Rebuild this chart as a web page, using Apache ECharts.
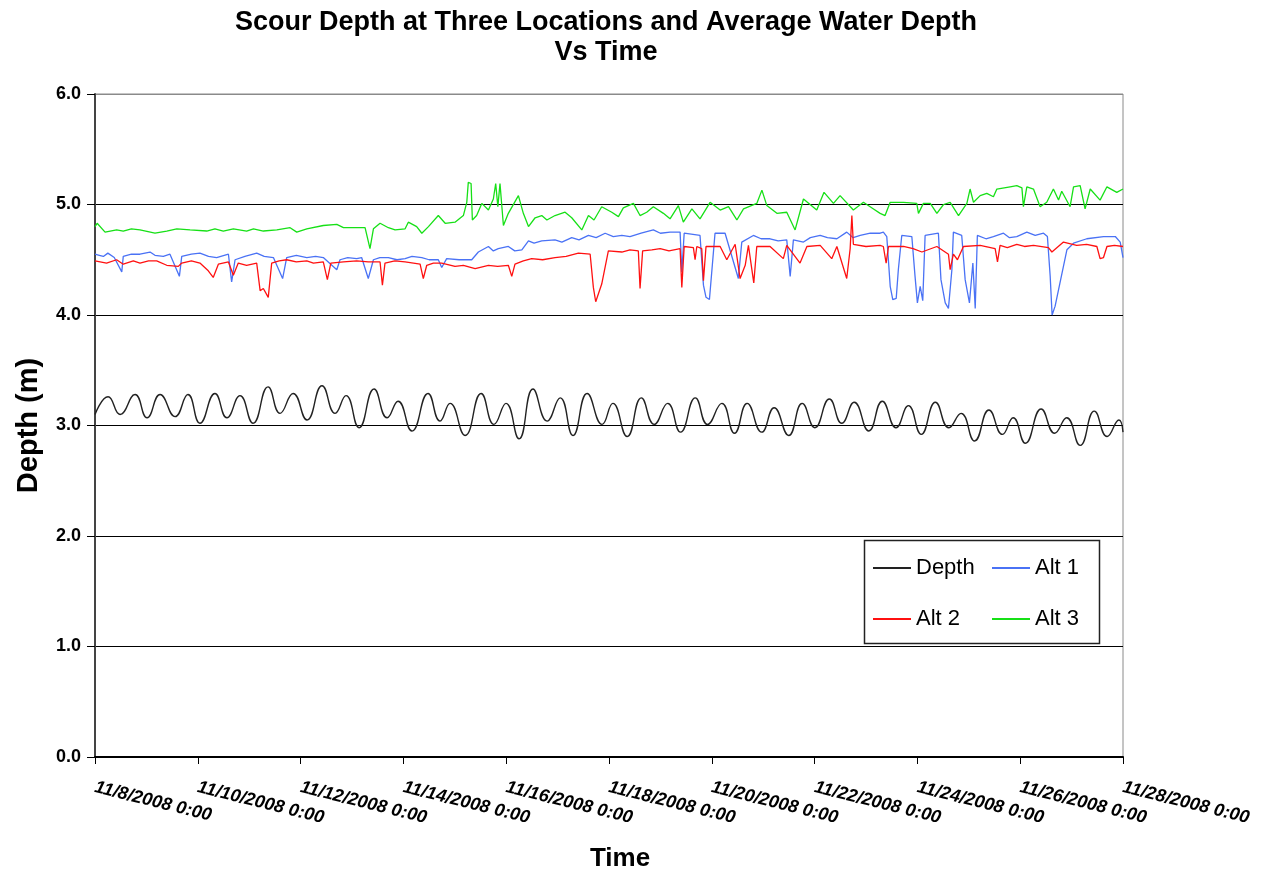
<!DOCTYPE html>
<html>
<head>
<meta charset="utf-8">
<script src="https://cdn.jsdelivr.net/npm/echarts@6/dist/echarts.min.js"></script>
<style>html,body{margin:0;padding:0;background:#fff;}#c{width:1268px;height:877px;}</style>
</head>
<body>
<div id="c"></div>
<script>
// hours since 11/8/2008 0:00
var xTickLabels = ['11/8/2008 0:00','11/10/2008 0:00','11/12/2008 0:00','11/14/2008 0:00','11/16/2008 0:00','11/18/2008 0:00','11/20/2008 0:00','11/22/2008 0:00','11/24/2008 0:00','11/26/2008 0:00','11/28/2008 0:00'];
var yTickLabels = ['0.0','1.0','2.0','3.0','4.0','5.0','6.0'];
var seriesNames = ['Depth','Alt 1','Alt 2','Alt 3'];

var depthData = [
[0,3.10],[6.1,3.26],[11.7,3.10],[18.7,3.28],[24.3,3.07],[30.4,3.28],[37.4,3.08],[43.4,3.28],[49.0,3.02],[56.0,3.29],
[61.6,3.07],[67.7,3.27],[73.8,3.02],[80.8,3.35],[86.4,3.11],[92.5,3.29],[99.0,3.05],[106.0,3.36],[112.1,3.11],[117.2,3.27],
[123.3,2.98],[130.3,3.33],[136.4,3.07],[141.5,3.22],[148.0,2.95],[155.5,3.29],[161.1,3.04],[165.8,3.20],[172.8,2.91],[180.3,3.29],
[186.3,3.01],[191.9,3.20],[198.0,2.88],[204.5,3.33],[211.1,3.04],[217.2,3.25],[223.2,2.91],[229.8,3.29],[236.8,3.01],[241.8,3.20],
[248.5,2.90],[255.1,3.25],[261.1,3.01],[267.4,3.20],[273.4,2.94],[280.3,3.25],[286.0,3.01],[292.7,3.20],[298.6,2.93],[304.5,3.20],
[311.3,2.94],[317.1,3.16],[323.9,2.91],[330.2,3.20],[336.1,2.98],[342.9,3.24],[348.7,3.02],[354.5,3.21],[361.3,2.95],[367.6,3.22],
[374.0,2.98],[379.8,3.18],[385.8,2.92],[392.4,3.21],[398.7,2.98],[404.4,3.11],[410.7,2.86],[417.4,3.14],[423.7,2.92],[428.7,3.07],
[434.4,2.84],[441.8,3.15],[448.1,2.93],[453.7,3.07],[460.0,2.82],[466.6,3.13],[472.6,2.90],[478.1,3.05],[480,2.94]
];

var alt1Data = [
[0,4.55],[2,4.54],[3.9,4.53],[6,4.56],[9,4.52],[12.5,4.39],[13.2,4.53],[17,4.55],[21.0,4.55],[25.7,4.57],[28,4.54],[31.9,4.53],[35,4.55],[39.4,4.35],[40.5,4.53],[45,4.55],[49.0,4.56],
[53,4.53],[56.8,4.52],[62.3,4.55],[63.8,4.30],[65.4,4.50],[70,4.53],[75.5,4.56],[79,4.53],[83.3,4.52],[87.6,4.33],[89.5,4.52],[94,4.54],[98.9,4.52],[103,4.53],[106.6,4.52],
[112.9,4.41],[114.4,4.50],[118,4.52],[122.2,4.51],[124.5,4.52],[127.6,4.33],[130.0,4.50],[133,4.52],[137.0,4.52],[141,4.50],[144.8,4.51],[148,4.53],[152.6,4.52],[156,4.50],[160.3,4.50],
[161.9,4.43],[164.2,4.51],[170,4.50],[175.9,4.50],[179.0,4.57],[183.7,4.62],[186,4.58],[188.3,4.60],[193.0,4.62],[196,4.58],[199.3,4.59],[202.4,4.67],[205,4.65],[208.6,4.67],
[214.8,4.68],[218,4.66],[222.6,4.70],[226,4.68],[230.4,4.72],[234,4.70],[238.2,4.74],[242,4.71],[246.0,4.72],[249.8,4.71],[255,4.74],[260.7,4.77],[264,4.74],[268.5,4.75],[273.2,4.75],[274.0,4.39],
[275.1,4.74],[282.5,4.72],[284.1,4.27],[285.3,4.16],[286.9,4.14],[289.5,4.74],[294.2,4.74],[300.4,4.33],[302.0,4.66],[307.4,4.72],
[311,4.69],[315.2,4.69],[319,4.67],[323.0,4.68],[324.6,4.35],[326.1,4.68],[330.8,4.66],[334,4.70],[338.6,4.72],[342,4.70],[346.4,4.69],[351.0,4.75],[354,4.70],[357.3,4.72],[362,4.74],[366.6,4.74],
[368.1,4.75],[369.7,4.71],[371.3,4.26],[372.5,4.14],[374.1,4.15],[375.1,4.41],[376.7,4.72],[381.4,4.71],[382.9,4.35],[384.0,4.11],
[385.3,4.26],[386.5,4.13],[387.6,4.72],[393.8,4.74],[395.0,4.32],[397.0,4.11],[398.5,4.06],[400.1,4.41],[400.8,4.75],[404.7,4.72],
[406.3,4.32],[408.3,4.11],[409.9,4.47],[411.0,4.06],[412.0,4.72],[416,4.69],[419.5,4.71],[424.2,4.74],[427,4.70],[430.4,4.71],[435.1,4.75],[439,4.72],[442.9,4.74],
[444.7,4.71],[446.0,4.35],[446.9,4.00],[448.3,4.08],[453.8,4.59],[456.9,4.65],[463.1,4.69],[470.9,4.71],[476.4,4.71],[478.7,4.66],[480,4.52]
];

var alt2Data = [
[0,4.49],[5.4,4.47],[10.1,4.50],[13.2,4.46],[17.9,4.49],[21.0,4.47],[25,4.49],[28.8,4.49],[33.5,4.45],[38.9,4.44],[40.5,4.47],[45,4.49],
[49.0,4.47],[52.9,4.40],[55.2,4.34],[57.6,4.46],[62.3,4.48],[64.6,4.36],[66.9,4.47],[70.8,4.45],[75.5,4.47],[77.1,4.22],
[78.6,4.24],[80.9,4.16],[82.5,4.47],[86,4.49],[89.5,4.50],[94,4.48],[98.9,4.49],[102,4.47],[106.6,4.48],[108.5,4.32],[110.1,4.47],[116,4.48],[122.2,4.49],[127.6,4.48],
[133.1,4.48],[134.2,4.27],[135.4,4.47],[140,4.49],[144.8,4.48],[151.8,4.46],[153.3,4.33],[154.9,4.45],[158,4.47],[161.9,4.47],[168.1,4.44],[172,4.45],[177.5,4.42],
[183.7,4.45],[188,4.44],[193.0,4.45],[194.6,4.35],[196.1,4.46],[200,4.49],[203.9,4.51],[209,4.50],[214.8,4.52],[220,4.53],[225.7,4.56],[231.2,4.55],[232.7,4.25],[233.8,4.12],
[236.6,4.28],[239.7,4.58],[246.0,4.57],[249.8,4.59],[253.7,4.58],[254.5,4.24],[255.7,4.58],[260,4.59],[263.9,4.60],[268,4.58],[273.2,4.60],[274.0,4.25],
[275.1,4.62],[279.4,4.61],[280.2,4.50],[281.0,4.62],[283.3,4.60],[284.1,4.31],[285.3,4.62],[291.9,4.62],[295.0,4.50],[298.9,4.64],
[301.2,4.33],[303.6,4.45],[305.1,4.63],[307.6,4.29],[309.0,4.62],[315.2,4.62],[321.4,4.51],[323.0,4.63],[329.2,4.47],[332.4,4.62],
[338.6,4.63],[344.0,4.51],[346.4,4.62],[351.0,4.33],[352.6,4.60],[353.4,4.90],[354.1,4.64],[360,4.62],[366.6,4.63],[368.1,4.62],[369.4,4.47],
[370.5,4.62],[377.5,4.62],[382,4.60],[386.1,4.57],[393.1,4.62],[398.5,4.55],[399.3,4.41],[400.8,4.55],[402.7,4.50],[405.5,4.62],[413.3,4.63],
[420.3,4.60],[421.4,4.48],[422.6,4.63],[426,4.61],[430.4,4.64],[434,4.62],[438.2,4.63],[445.2,4.61],[446.8,4.57],[452.2,4.66],[458.4,4.63],[463,4.64],[467.8,4.62],
[469.3,4.51],[470.9,4.52],[472.5,4.62],[476,4.63],[480,4.62]
];

var alt3Data = [
[0,4.80],[1,4.83],[4.7,4.75],[10.1,4.77],[13.2,4.76],[17,4.78],[21.0,4.77],[28.0,4.74],[33.5,4.76],[38.2,4.78],[44.4,4.77],
[52.2,4.76],[56,4.78],[59.9,4.76],[64.6,4.78],[70.8,4.76],[74,4.78],[78.6,4.76],[84.9,4.77],[91.1,4.79],[94.2,4.75],[98.9,4.78],[106.6,4.81],
[112.9,4.82],[116.0,4.79],[122.2,4.79],[126.1,4.79],[128.4,4.60],[130.0,4.78],[133.1,4.83],[137.0,4.79],[140.1,4.77],[144.8,4.78],
[146.3,4.84],[150.2,4.80],[152.6,4.74],[155.7,4.80],[160.3,4.90],[163.5,4.83],[168.1,4.84],[172.0,4.90],[173.6,5.02],[174.3,5.20],
[175.6,5.19],[176.2,4.86],[178.2,4.90],[180.6,5.01],[183.7,4.95],[186.0,5.05],[187.1,5.19],[188.1,4.98],[189.1,5.19],[190.7,4.81],
[193.0,4.92],[197.7,5.08],[200.0,4.92],[202.4,4.80],[205.5,4.88],[208.6,4.90],[211,4.86],[214.8,4.90],[219.5,4.93],[222.6,4.88],[227.3,4.77],
[230.4,4.90],[233,4.86],[236.6,4.98],[241.3,4.93],[244.4,4.89],[246.7,4.97],[251.4,5.01],[254.5,4.90],[257.6,4.93],[260.7,4.98],[265.4,4.92],
[268.5,4.87],[272.4,4.99],[274.7,4.84],[278.7,4.96],[282.5,4.87],[287.2,5.02],[291.9,4.95],[295.8,4.98],[299.7,4.86],[302.8,4.96],
[309.0,5.01],[311.4,5.13],[313.7,4.99],[318.4,4.92],[323.0,4.93],[326.9,4.77],[330.8,5.05],[337.0,4.95],[340.4,5.11],[344.8,5.01],
[347.9,5.08],[354.1,4.95],[358.8,5.02],[363.5,4.96],[366.6,4.92],[368.9,4.90],[371.3,5.02],[377.5,5.02],[383.7,5.01],[384.5,4.92],
[386.8,5.01],[390.0,5.01],[393.1,4.92],[396.2,5.00],[399.3,5.02],[403.2,4.90],[407.1,5.01],[408.6,5.14],[410.2,5.02],[413.3,5.08],
[416.4,5.10],[419.5,5.07],[421.1,5.14],[427.3,5.16],[430.4,5.17],[432.8,5.15],[433.5,4.98],[435.1,5.16],[438.2,5.14],[441.3,4.98],
[444.4,5.02],[447.5,5.14],[449.9,5.04],[451.4,5.12],[455.3,4.98],[456.9,5.16],[460.0,5.17],[462.3,4.96],[464.7,5.14],[469.3,5.04],
[472.5,5.16],[477.1,5.11],[480,5.14]
];

var FONT = '"Liberation Sans", Arial, sans-serif';
var chart = echarts.init(document.getElementById('c'), null, {renderer: 'canvas'});
var legendText = {fontFamily: FONT, fontSize: 22, color: '#000'};
var option = {
  backgroundColor: '#fff',
  animation: false,
  title: {
    text: 'Scour Depth at Three Locations and Average Water Depth\nVs Time',
    left: 601, top: 3, textAlign: 'center',
    textStyle: {fontFamily: FONT, fontWeight: 'bold', fontSize: 27, lineHeight: 30, color: '#000'}
  },
  grid: {left: 95, right: 145, top: 94, bottom: 119, show: true, borderColor: '#8a8a8a', borderWidth: 1, containLabel: false},
  legend: [
    {data: [seriesNames[0], seriesNames[2]], orient: 'vertical', left: 868, top: 552, icon: 'rect', itemWidth: 38, itemHeight: 2, itemGap: 29,
     textStyle: legendText},
    {data: [seriesNames[1], seriesNames[3]], orient: 'vertical', left: 987, top: 552, icon: 'rect', itemWidth: 38, itemHeight: 2, itemGap: 29,
     textStyle: legendText}
  ],
  graphic: [
    {type: 'rect', left: 862, top: 538, shape: {width: 235, height: 103}, style: {fill: 'none', stroke: '#222', lineWidth: 1.5}, z: 100}
  ],
  xAxis: {
    type: 'value', min: 0, max: 480, interval: 48,
    name: 'Time', nameLocation: 'middle', nameGap: 89,
    nameTextStyle: {fontFamily: FONT, fontWeight: 'bold', fontSize: 26, color: '#000', padding: [0, 0, 0, 22]},
    axisLine: {show: true, onZero: false, lineStyle: {color: '#000', width: 2}},
    axisTick: {show: true, length: 7, lineStyle: {color: '#000', width: 1}},
    splitLine: {show: false},
    axisLabel: {
      rotate: -14, margin: 30,
      fontFamily: FONT, fontWeight: 'bold', fontStyle: 'italic', fontSize: 18, color: '#000',
      formatter: function (v) { return xTickLabels[Math.round(v / 48)] || ''; }
    }
  },
  yAxis: {
    type: 'value', min: 0, max: 6, interval: 1,
    name: 'Depth (m)', nameLocation: 'middle', nameGap: 52,
    nameTextStyle: {fontFamily: FONT, fontWeight: 'bold', fontSize: 29, color: '#000'},
    axisLine: {show: true, lineStyle: {color: '#444', width: 2}},
    axisTick: {show: true, length: 8, lineStyle: {color: '#000', width: 1}},
    splitLine: {show: true, lineStyle: {color: ['#000','#000','#000','#000','#000','#000','#8a8a8a'], width: 1}},
    axisLabel: {
      margin: 14, fontFamily: FONT, fontWeight: 'bold', fontSize: 18, color: '#000',
      formatter: function (v) { return yTickLabels[Math.round(v)]; }
    }
  },
  series: [
    {name: seriesNames[0], type: 'line', data: depthData, smooth: 0.5, symbol: 'none', lineStyle: {color: '#222', width: 1.4}, itemStyle: {color: '#222'}, z: 3},
    {name: seriesNames[1], type: 'line', data: alt1Data, symbol: 'none', lineStyle: {color: '#4a72f5', width: 1.3}, itemStyle: {color: '#4a72f5'}, z: 2},
    {name: seriesNames[2], type: 'line', data: alt2Data, symbol: 'none', lineStyle: {color: '#ff1010', width: 1.3}, itemStyle: {color: '#ff1010'}, z: 3},
    {name: seriesNames[3], type: 'line', data: alt3Data, symbol: 'none', lineStyle: {color: '#16e016', width: 1.3}, itemStyle: {color: '#16e016'}, z: 3}
  ]
};
chart.setOption(option);
</script>
</body>
</html>
